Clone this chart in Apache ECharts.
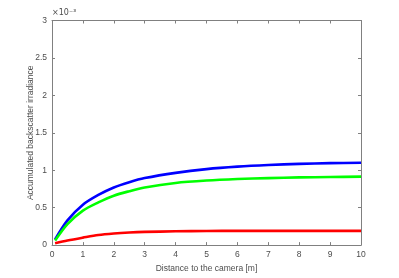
<!DOCTYPE html>
<html><head><meta charset="utf-8">
<script src="https://cdn.jsdelivr.net/npm/echarts@6/dist/echarts.min.js"></script>
<style>html,body{margin:0;padding:0;background:#fff}#c{width:399px;height:278px}</style>
</head><body><div id="c"></div>
<script>
const distances = [0.1, 0.5, 1, 1.5, 2, 2.5, 3, 4, 5, 6, 7, 8, 9, 10];
const blueVals  = [0.075, 0.33, 0.54, 0.67, 0.77, 0.84, 0.895, 0.965, 1.015, 1.048, 1.07, 1.085, 1.095, 1.10];
const greenVals = [0.06, 0.28, 0.46, 0.57, 0.66, 0.72, 0.77, 0.83, 0.862, 0.882, 0.895, 0.904, 0.91, 0.914];
const redVals   = [0.025, 0.062, 0.10, 0.135, 0.155, 0.168, 0.176, 0.184, 0.188, 0.19, 0.19, 0.19, 0.19, 0.19];
const xLabel = 'Distance to the camera [m]';
const yLabel = 'Accumulated backscatter irradiance';

const font = 'Liberation Sans, Arial, sans-serif';
const txt = '#4d4d4d';
const ax = '#808080';
function pairs(v){ return distances.map((d,i)=>[d, v[i]]); }
function mkSeries(v, color){
  return {type:'line', data:pairs(v), smooth:0.3, showSymbol:false, symbol:'none',
    lineStyle:{color:color, width:2.6}, xAxisIndex:0, yAxisIndex:0};
}
const chart = echarts.init(document.getElementById('c'), null, {renderer:'canvas'});
chart.setOption({
  animation:false,
  grid:{left:52, right:38, top:20.5, bottom:31, containLabel:false},
  xAxis:[{type:'value', min:0, max:10, interval:1, position:'bottom',
      name:xLabel, nameLocation:'middle', nameGap:14,
      nameTextStyle:{color:txt, fontSize:8.5, fontFamily:font},
      axisLine:{lineStyle:{color:ax, width:1}},
      axisTick:{inside:true, length:3, lineStyle:{color:ax}},
      axisLabel:{color:txt, fontSize:8.5, fontFamily:font, margin:5},
      splitLine:{show:false}},
    {type:'value', min:0, max:10, interval:1, position:'top',
      axisLine:{show:true, onZero:false, lineStyle:{color:ax, width:1}},
      axisTick:{inside:true, length:3, lineStyle:{color:ax}},
      axisLabel:{show:false}, splitLine:{show:false}}],
  yAxis:[{type:'value', min:0, max:3, interval:0.5, position:'left',
      name:yLabel, nameLocation:'middle', nameGap:17, nameRotate:90, nameMoveOverlap:false,
      nameTextStyle:{color:txt, fontSize:8.5, fontFamily:font},
      axisLine:{show:true, lineStyle:{color:ax, width:1}},
      axisTick:{show:true, inside:true, length:3, lineStyle:{color:ax}},
      axisLabel:{color:txt, fontSize:8.5, fontFamily:font, margin:5},
      splitLine:{show:false}},
    {type:'value', min:0, max:3, interval:0.5, position:'right',
      axisLine:{show:true, onZero:false, lineStyle:{color:ax, width:1}},
      axisTick:{show:true, inside:true, length:3, lineStyle:{color:ax}},
      axisLabel:{show:false}, splitLine:{show:false}}],
  graphic:[{type:'text', left:52, top:9,
    style:{text:'×10⁻³', fontSize:8, fill:txt, fontFamily:'DejaVu Sans, sans-serif'}}],
  series:[mkSeries(blueVals,'#0000ff'), mkSeries(greenVals,'#00ff00'), mkSeries(redVals,'#ff0000')]
});
</script></body></html>
